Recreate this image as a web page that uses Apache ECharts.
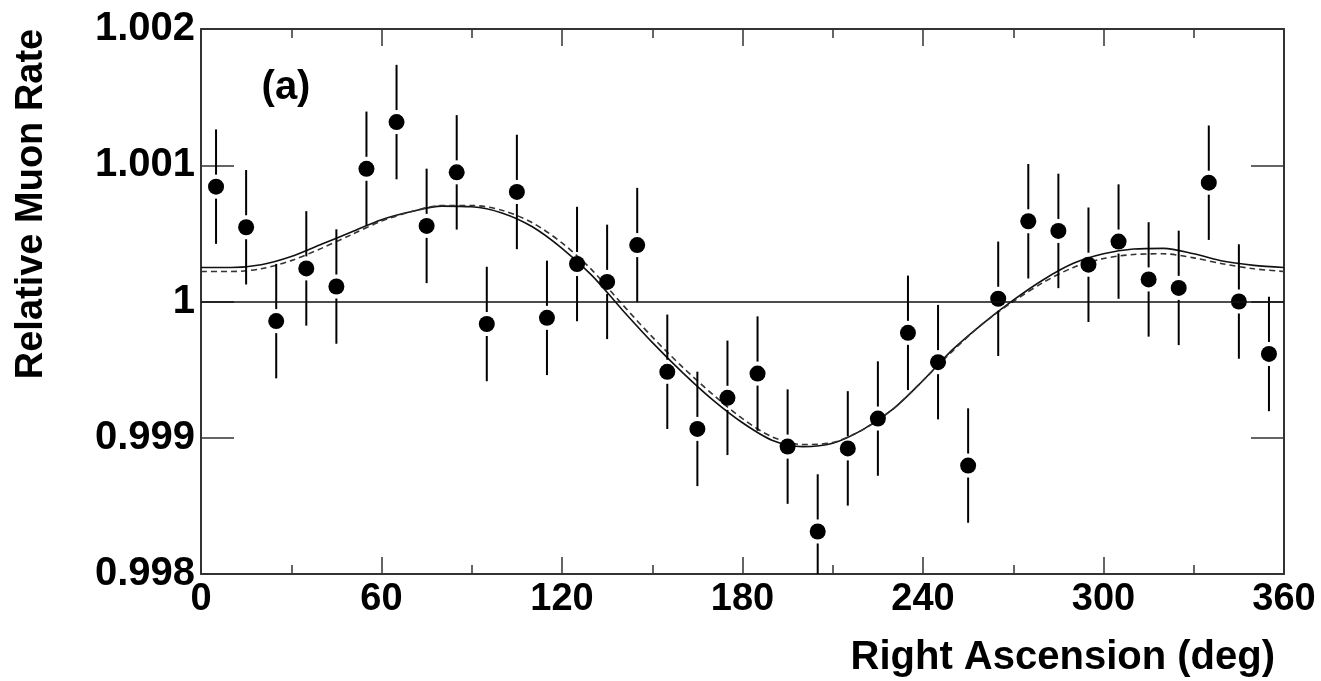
<!DOCTYPE html>
<html>
<head>
<meta charset="utf-8">
<script src="https://cdn.jsdelivr.net/npm/echarts@6/dist/echarts.min.js"></script>
<style>
html,body{margin:0;padding:0;background:#fff;}
#chart{width:1321px;height:681px;}
</style>
</head>
<body>
<div id="chart"></div>
<script>
// Right ascension bin centres (deg)
const raBins = [5,15,25,35,45,55,65,75,85,95,105,115,125,135,145,155,165,175,185,195,205,215,225,235,245,255,265,275,285,295,305,315,325,335,345,355];
// Relative muon rate per bin
const rates = [1.000843,1.000545,0.999856,1.000243,1.000110,1.000974,1.001317,1.000555,1.000948,0.999835,1.000804,0.999880,
               1.000275,1.000144,1.000414,0.999484,0.999065,0.999293,0.999471,0.998935,0.998312,0.998922,0.999141,0.999770,
               0.999555,0.998796,1.000020,1.000589,1.000518,1.000270,1.000440,1.000162,1.000100,1.000872,1.000000,0.999615];
// Statistical error per bin
const errors = [0.00042,0.00042,0.00042,0.00042,0.00042,0.00042,0.00042,0.00042,0.00042,0.00042,0.00042,0.00042,
                0.00042,0.00042,0.00042,0.00042,0.00042,0.00042,0.00042,0.00042,0.00042,0.00042,0.00042,0.00042,
                0.00042,0.00042,0.00042,0.00042,0.00042,0.00042,0.00042,0.00042,0.00042,0.00042,0.00042,0.00042];
// Fit curves
const fitRA = [0,10,20,30,40,50,60,70,80,90,100,110,120,130,140,150,160,170,180,190,200,210,220,230,240,250,260,270,280,290,300,310,320,330,340,350,360];
const fitSolid = [1.00025,1.00025,1.00027,1.00033,1.00042,1.00051,1.00060,1.00066,1.00070,1.000695,1.00065,1.00055,1.00039,1.00019,0.99994,0.99970,0.99948,0.99928,0.99911,0.99898,0.998935,0.99896,0.99906,0.99921,0.99942,0.99965,0.99984,1.00001,1.00016,1.00028,1.00035,1.000385,1.00039,1.00035,1.000295,1.000265,1.00025];
const fitDashed = [1.00022,1.00022,1.00024,1.00030,1.00039,1.00049,1.00059,1.00066,1.000705,1.000705,1.00067,1.00058,1.00043,1.00023,0.99998,0.99974,0.99952,0.99932,0.99914,0.999005,0.99895,0.998965,0.99906,0.99921,0.99942,0.99964,0.99984,1.00000,1.00014,1.00025,1.000315,1.000345,1.00035,1.00032,1.000275,1.00024,1.00022];
// Axis tick labels
const yTicks = [0.998,0.999,1,1.001,1.002];
const xTicks = [0,60,120,180,240,300,360];

const FONT = "'Liberation Sans', Arial, Helvetica, sans-serif";
const chart = echarts.init(document.getElementById('chart'));

const pts = raBins.map((x,i)=>[x,rates[i],errors[i]]);
const solid = fitRA.map((x,i)=>[x,fitSolid[i]]);
const dashed = fitRA.map((x,i)=>[x,fitDashed[i]]);

function yFmt(v){ return String(parseFloat(Number(v).toFixed(3))); }

const axisLineStyle = {color:'#333', width:2};

chart.setOption({
  animation:false,
  backgroundColor:'#fff',
  grid:{left:201, right:37, top:29, bottom:107, containLabel:false},
  xAxis:[
    {type:'value', position:'bottom', min:0, max:360, interval:60,
     axisLine:{show:true, onZero:false, lineStyle:axisLineStyle},
     axisTick:{show:true, inside:true, length:17, lineStyle:{color:'#333', width:1.5}},
     minorTick:{show:true, splitNumber:2, length:9, lineStyle:{color:'#333', width:1.5}},
     splitLine:{show:false}, minorSplitLine:{show:false},
     axisLabel:{show:true, margin:7, fontFamily:FONT, fontWeight:'bold', fontSize:38, color:'#000',
       formatter:v=> xTicks.indexOf(v)>=0 ? String(v) : ''}},
    {type:'value', position:'top', min:0, max:360, interval:60,
     axisLine:{show:true, onZero:false, lineStyle:axisLineStyle},
     axisTick:{show:true, inside:true, length:17, lineStyle:{color:'#333', width:1.5}},
     minorTick:{show:true, splitNumber:2, length:9, lineStyle:{color:'#333', width:1.5}},
     splitLine:{show:false}, axisLabel:{show:false}}
  ],
  yAxis:[
    {type:'value', position:'left', min:0.998, max:1.002, interval:0.001,
     axisLine:{show:true, onZero:false, lineStyle:axisLineStyle},
     axisTick:{show:true, inside:true, length:33, lineStyle:{color:'#333', width:1.5}},
     splitLine:{show:false},
     axisLabel:{show:true, margin:6, fontFamily:FONT, fontWeight:'bold', fontSize:40, color:'#000',
       formatter:v=>{ const s=yFmt(v); return yTicks.map(String).indexOf(s)>=0 ? s : ''; }}},
    {type:'value', position:'right', min:0.998, max:1.002, interval:0.001,
     axisLine:{show:true, onZero:false, lineStyle:axisLineStyle},
     axisTick:{show:true, inside:true, length:33, lineStyle:{color:'#333', width:1.5}},
     splitLine:{show:false}, axisLabel:{show:false}}
  ],
  series:[
    {type:'line', data:solid, smooth:0.3, showSymbol:false, symbol:'none',
     lineStyle:{color:'#111', width:1.6}, z:3,
     markLine:{silent:true, symbol:['none','none'], label:{show:false},
       lineStyle:{color:'#111', width:1.5, type:'solid'}, data:[{yAxis:1}]}},
    {type:'line', data:dashed, smooth:0.3, showSymbol:false, symbol:'none',
     lineStyle:{color:'#333', width:1.6, type:[6,4]}, z:3},
    {type:'custom', data:pts, z:4,
     renderItem:function(params, api){
       const x=api.value(0), y=api.value(1), e=api.value(2);
       const c=api.coord([x,y]);
       const hi=api.coord([x,y+e]);
       const lo=api.coord([x,y-e]);
       const cs=params.coordSys;
       const top=cs.y, bot=cs.y+cs.height;
       const gap=12;
       const kids=[];
       const y1=Math.max(hi[1],top), y2=Math.min(lo[1],bot);
       if (c[1]-gap > y1) kids.push({type:'line', shape:{x1:c[0],y1:y1,x2:c[0],y2:c[1]-gap}, style:{stroke:'#000', lineWidth:2}});
       if (c[1]+gap < y2) kids.push({type:'line', shape:{x1:c[0],y1:c[1]+gap,x2:c[0],y2:y2}, style:{stroke:'#000', lineWidth:2}});
       kids.push({type:'circle', shape:{cx:c[0], cy:c[1], r:8}, style:{fill:'#000'}});
       return {type:'group', children:kids};
     }}
  ],
  graphic:[
    {type:'text', x:32, y:204, rotation:Math.PI/2,
     style:{text:'Relative Muon Rate', font:"bold 38px "+FONT, fill:'#000', textAlign:'center', textVerticalAlign:'middle'}},
    {type:'text', x:1275, y:658,
     style:{text:'Right Ascension (deg)', font:"bold 40px "+FONT, fill:'#000', textAlign:'right', textVerticalAlign:'middle'}},
    {type:'text', x:286, y:88,
     style:{text:'(a)', font:"bold 40px "+FONT, fill:'#000', textAlign:'center', textVerticalAlign:'middle'}}
  ]
});
</script>
</body>
</html>
